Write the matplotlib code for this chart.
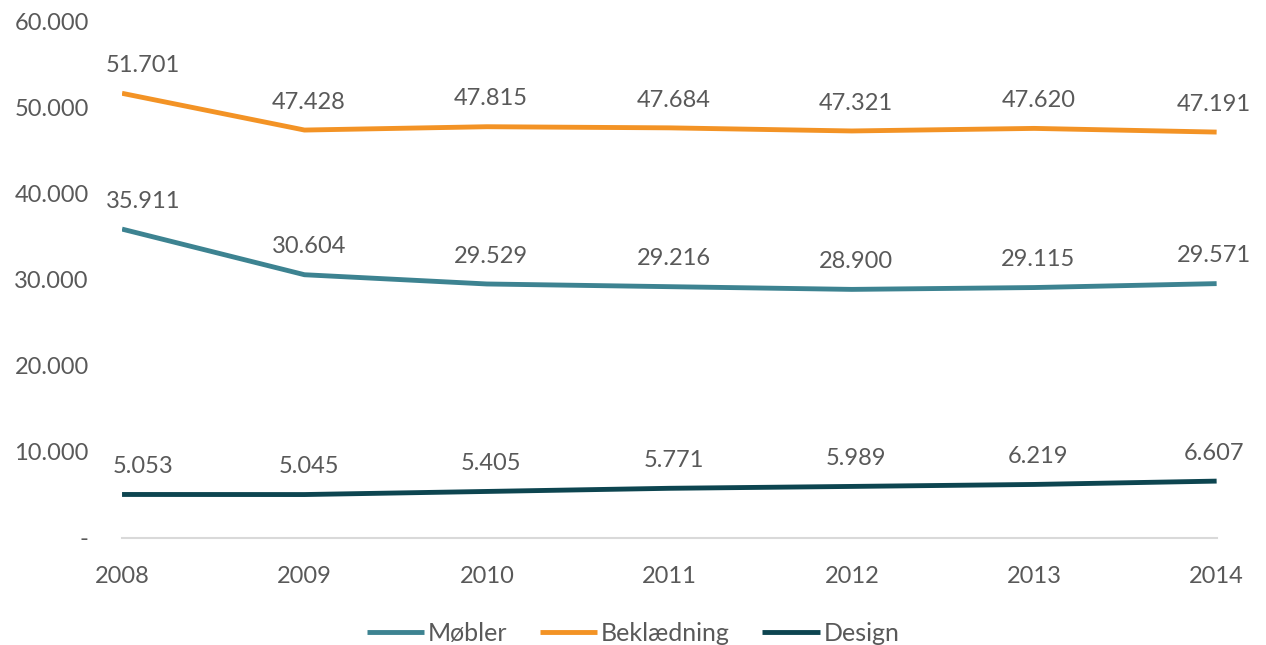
import matplotlib
matplotlib.use("Agg")
import matplotlib.pyplot as plt
from matplotlib.ticker import FuncFormatter

years = [2008, 2009, 2010, 2011, 2012, 2013, 2014]
mobler = [35911, 30604, 29529, 29216, 28900, 29115, 29571]
bekl = [51701, 47428, 47815, 47684, 47321, 47620, 47191]
design = [5053, 5045, 5405, 5771, 5989, 6219, 6607]
series = [("Møbler", mobler, "#3D8391"), ("Beklædning", bekl, "#F39325"), ("Design", design, "#0D4550")]

plt.rcParams['font.family'] = ['Lato', 'DejaVu Sans']
txt = "#595959"

fig = plt.figure(figsize=(12.66, 6.45), dpi=100)
ax = fig.add_axes([0.0964, 0.166, 0.8646, 0.800])

def fmt(v):
    s = f"{int(round(v)):,}".replace(",", ".")
    return s

for name, vals, col in series:
    ax.plot(years, vals, color=col, lw=3.5, label=name, solid_capstyle='butt')
    for i, (x, v) in enumerate(zip(years, vals)):
        dx = 15 if i == 0 else (-2 if i == len(years) - 1 else 3)
        ax.annotate(fmt(v), (x, v), xytext=(dx, 20), textcoords='offset points',
                    ha='center', va='center', fontsize=17, color=txt)

ax.set_xlim(2008, 2014)
ax.set_ylim(0, 60000)
ax.set_yticks(range(0, 60001, 10000))
ax.yaxis.set_major_formatter(FuncFormatter(lambda v, p: "-" if v == 0 else fmt(v)))
ax.set_xticks(years)
ax.tick_params(axis='both', length=0, labelsize=17, labelcolor=txt)
ax.tick_params(axis='y', pad=24)
ax.tick_params(axis='x', pad=20)
for s in ['top', 'right', 'left']:
    ax.spines[s].set_visible(False)
ax.spines['bottom'].set_color("#D9D9D9")
ax.spines['bottom'].set_linewidth(1.5)

leg = fig.legend(loc='center', bbox_to_anchor=(0.5, 0.018), ncol=3, frameon=False,
                 fontsize=18, handlelength=2.3, handletextpad=0.15, columnspacing=1.3,
                 labelcolor=txt)
fig.savefig("out.png", dpi=100)
